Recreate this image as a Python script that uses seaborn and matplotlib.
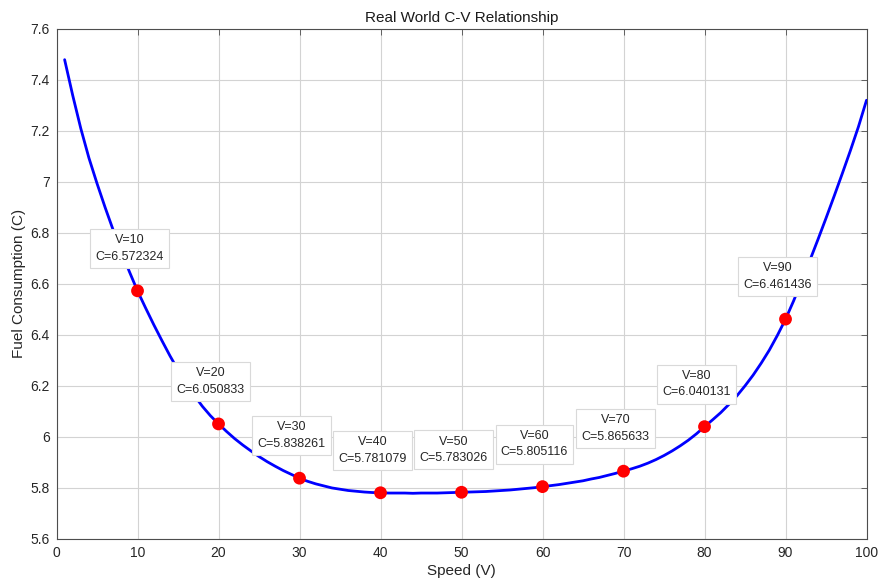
import numpy as np
import pandas as pd
import matplotlib
matplotlib.use("Agg")
import matplotlib.pyplot as plt
import matplotlib.ticker as mticker
import seaborn as sns

# ---- data ----
speed = list(range(1, 101))
consumption = [
    7.478, 7.338, 7.208, 7.093, 6.993, 6.899, 6.810, 6.726, 6.647, 6.572,
    6.505, 6.440, 6.378, 6.318, 6.262, 6.210, 6.163, 6.120, 6.083, 6.051,
    6.021, 5.993, 5.968, 5.945, 5.923, 5.903, 5.885, 5.868, 5.853, 5.838,
    5.826, 5.816, 5.808, 5.800, 5.795, 5.790, 5.787, 5.784, 5.782, 5.781,
    5.780, 5.780, 5.780, 5.779, 5.780, 5.780, 5.780, 5.781, 5.782, 5.783,
    5.784, 5.785, 5.786, 5.788, 5.790, 5.792, 5.795, 5.798, 5.801, 5.805,
    5.809, 5.813, 5.818, 5.823, 5.828, 5.835, 5.841, 5.849, 5.857, 5.866,
    5.875, 5.885, 5.897, 5.911, 5.927, 5.945, 5.965, 5.987, 6.012, 6.040,
    6.067, 6.095, 6.127, 6.161, 6.200, 6.242, 6.289, 6.340, 6.398, 6.461,
    6.533, 6.611, 6.691, 6.773, 6.857, 6.943, 7.031, 7.121, 7.215, 7.319,
]
marked_speed = [10, 20, 30, 40, 50, 60, 70, 80, 90]
marked_consumption = [6.572324, 6.050833, 5.838261, 5.781079, 5.783026,
                      5.805116, 5.865633, 6.040131, 6.461436]
x_ticks = [0, 10, 20, 30, 40, 50, 60, 70, 80, 90, 100]
y_ticks = [5.6, 5.8, 6.0, 6.2, 6.4, 6.6, 6.8, 7.0, 7.2, 7.4, 7.6]

curve = pd.DataFrame({"V": speed, "C": consumption})
points = pd.DataFrame({"V": marked_speed, "C": marked_consumption})

sns.set_theme(style="whitegrid")
plt.rcParams["font.family"] = ["Liberation Sans", "DejaVu Sans"]

fig = plt.figure(figsize=(8.79, 5.87), dpi=100)
ax = fig.add_axes([0.0643, 0.0818, 0.9215, 0.8696])
ax.set_facecolor("white")

sns.lineplot(data=curve, x="V", y="C", color="#0000ff", linewidth=2.0,
             ax=ax, zorder=3)
sns.scatterplot(data=points, x="V", y="C", color="#ff0000", s=85,
                edgecolor="none", ax=ax, zorder=4)

for v, c in zip(marked_speed, marked_consumption):
    ax.annotate(f"V={v}\nC={c:.6f}", xy=(v, c), xytext=(-5.8, 30.6),
                textcoords="offset points", ha="center", va="center",
                fontsize=9, color="#262626", linespacing=1.5, zorder=6,
                bbox=dict(boxstyle="square,pad=0.42", facecolor="white",
                          edgecolor="#d9d9d9", linewidth=0.8))

ax.set_xlim(0, 100)
ax.set_ylim(5.6, 7.6)
ax.set_xticks(x_ticks)
ax.set_yticks(y_ticks)
ax.yaxis.set_major_formatter(mticker.FuncFormatter(lambda y, p: f"{y:g}"))

ax.grid(True, color="#d3d3d3", linewidth=0.8)
ax.set_axisbelow(True)
for s in ax.spines.values():
    s.set_visible(True)
    s.set_color("#4d4d4d")
    s.set_linewidth(0.8)
ax.tick_params(direction="in", top=True, right=True, length=4, width=0.6,
               color="#4d4d4d", labelsize=10, labelcolor="#262626", pad=5)

ax.set_title("Real World C-V Relationship", fontsize=11, color="#1a1a1a", pad=5)
ax.set_xlabel("Speed (V)", fontsize=11, color="#262626", labelpad=3)
ax.set_ylabel("Fuel Consumption (C)", fontsize=11, color="#262626", labelpad=3)

fig.savefig("out.png", dpi=100)
